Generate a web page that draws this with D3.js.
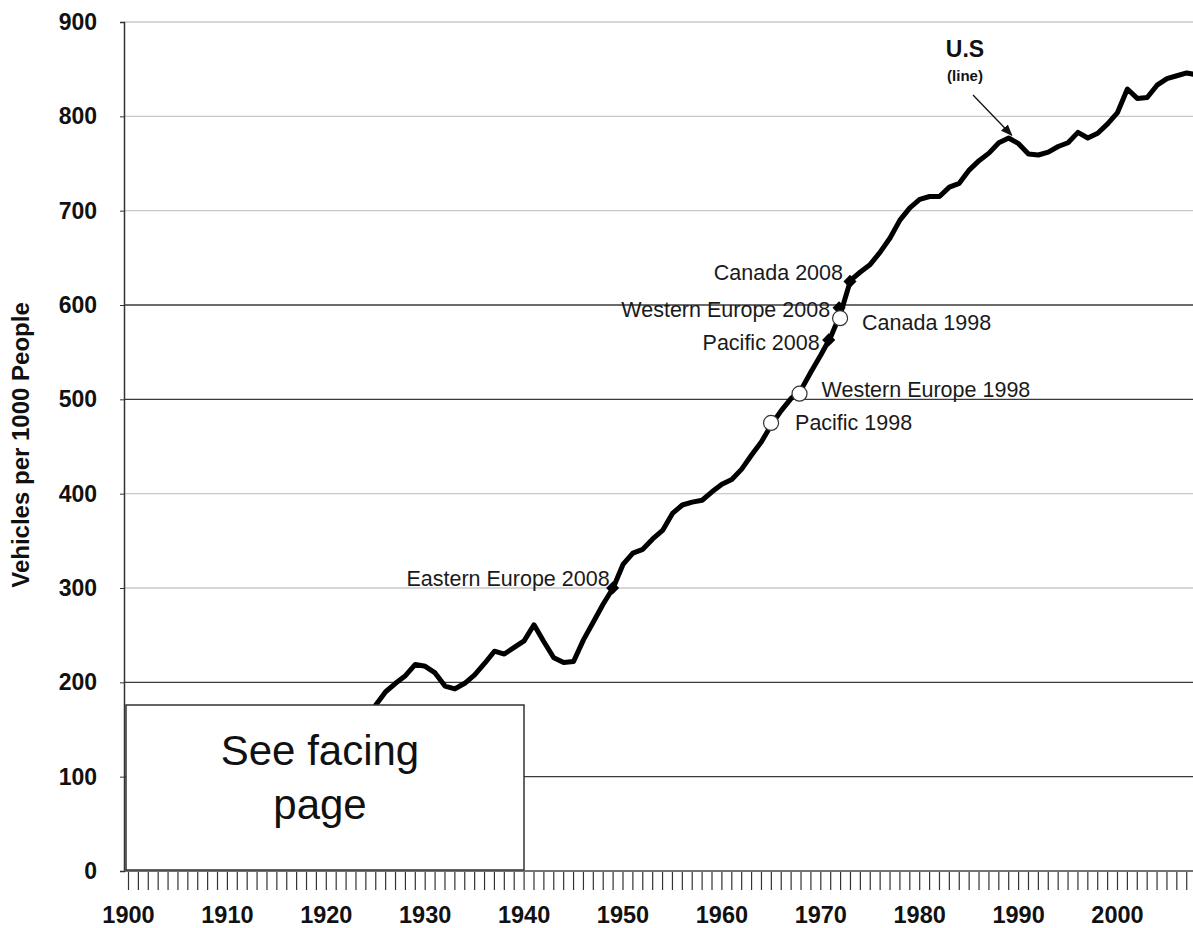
<!DOCTYPE html>
<html>
<head>
<meta charset="utf-8">
<script src="https://cdn.jsdelivr.net/npm/d3@7"></script>
<style>
  html, body { margin: 0; padding: 0; background: #fff; }
  svg { display: block; font-family: "Liberation Sans", Arial, Helvetica, sans-serif; }
</style>
</head>
<body>
<svg id="chart" width="1193" height="928"></svg>
<script>
// ---------- DATA ----------
const years = [1900,1901,1902,1903,1904,1905,1906,1907,1908,1909,
  1910,1911,1912,1913,1914,1915,1916,1917,1918,1919,
  1920,1921,1922,1923,1924,1925,1926,1927,1928,1929,
  1930,1931,1932,1933,1934,1935,1936,1937,1938,1939,
  1940,1941,1942,1943,1944,1945,1946,1947,1948,1949,
  1950,1951,1952,1953,1954,1955,1956,1957,1958,1959,
  1960,1961,1962,1963,1964,1965,1966,1967,1968,1969,
  1970,1971,1972,1973,1974,1975,1976,1977,1978,1979,
  1980,1981,1982,1983,1984,1985,1986,1987,1988,1989,
  1990,1991,1992,1993,1994,1995,1996,1997,1998,1999,
  2000,2001,2002,2003,2004,2005,2006,2007,2008];
const usVehiclesPer1000 = [0.1,0.2,0.3,0.4,0.7,0.9,1.3,1.6,2.1,3.4,
  5,6.6,10,13,18,25,34,48,58,72,
  87,97,111,135,155,176,190,199,207,219,
  217,210,196,193,199,208,220,233,230,237,
  244,261,243,226,221,222,245,264,283,300,
  325,337,341,352,361,379,388,391,393,402,
  410,415,426,441,455,473,488,501,510,529,
  547,566,591,626,635,643,656,671,690,703,
  712,715,715,725,729,743,753,761,772,777,
  771,760,759,762,768,772,783,777,782,792,
  804,829,819,820,833,840,843,846,844];

const markerLabels = ["Eastern Europe 2008","Pacific 1998","Western Europe 1998","Pacific 2008","Western Europe 2008","Canada 1998","Canada 2008"];
const markerYears  = [1948.95, 1964.97, 1967.85, 1970.8, 1971.85, 1971.95, 1972.95];
const markerValues = [300, 475, 506, 563, 597, 586, 625];
const markerKinds  = ["2008","1998","1998","2008","2008","1998","2008"];

const yTickValues = [0,100,200,300,400,500,600,700,800,900];
const xTickLabels = [1900,1910,1920,1930,1940,1950,1960,1970,1980,1990,2000];
const xMinorTicks = years;

// ---------- LAYOUT / STYLE ----------
const labelLayout = {
  "Eastern Europe 2008": {dx: -3, dy: -2, anchor: "end"},
  "Pacific 1998":        {dx: 24, dy: 7, anchor: "start"},
  "Western Europe 1998": {dx: 22, dy: 3, anchor: "start"},
  "Pacific 2008":        {dx: -9, dy: 10, anchor: "end"},
  "Western Europe 2008": {dx: -9, dy: 9, anchor: "end"},
  "Canada 1998":         {dx: 22, dy: 12, anchor: "start"},
  "Canada 2008":         {dx: -7, dy: -1, anchor: "end"}
};
const darkGrid = new Set([100,200,500,600]);

const svg = d3.select("#chart");
const x = d3.scaleLinear().domain([1900, 2000]).range([128.5, 1117.5]);
const y = d3.scaleLinear().domain([0, 900]).range([871, 22]);
const axisX = 124, rightEdge = 1193;

svg.append("defs").append("clipPath").attr("id", "plotClip")
  .append("rect").attr("x", axisX).attr("y", 0).attr("width", rightEdge - axisX).attr("height", y(0) - 1);

// gridlines
svg.append("g").selectAll("line").data(yTickValues.filter(v => v > 0)).join("line")
  .attr("x1", axisX).attr("x2", rightEdge)
  .attr("y1", d => y(d)).attr("y2", d => y(d))
  .attr("stroke", d => darkGrid.has(d) ? "#3a3a3a" : "#c8c8c8")
  .attr("stroke-width", 1.3);

// US line
const line = d3.line().x((d, i) => x(years[i])).y(d => y(d)).curve(d3.curveLinear);
svg.append("path").datum(usVehiclesPer1000)
  .attr("clip-path", "url(#plotClip)")
  .attr("d", line).attr("fill", "none").attr("stroke", "#000")
  .attr("stroke-width", 5).attr("stroke-linejoin", "round").attr("stroke-linecap", "round");

// box "See facing page"
svg.append("rect").attr("x", 126).attr("y", 705).attr("width", 398).attr("height", 165)
  .attr("fill", "#fff").attr("stroke", "#333").attr("stroke-width", 1.5);
svg.append("text").attr("x", 320).attr("y", 765).attr("text-anchor", "middle")
  .attr("font-size", 42).attr("fill", "#111").text("See facing");
svg.append("text").attr("x", 320).attr("y", 819).attr("text-anchor", "middle")
  .attr("font-size", 42).attr("fill", "#111").text("page");

// y axis
const yAxis = d3.axisLeft(y).tickValues(yTickValues).tickSize(4).tickFormat(d3.format("d"));
const gy = svg.append("g").attr("transform", `translate(${axisX},0)`).call(yAxis);
gy.select(".domain").attr("stroke", "#333").attr("stroke-width", 1.5);
gy.selectAll(".tick line").attr("stroke", "#333");
gy.selectAll(".tick text").attr("x", -27).attr("font-size", 23).attr("font-weight", "bold")
  .attr("fill", "#111").attr("font-family", "'Liberation Sans', Arial, sans-serif");

// x axis line
svg.append("line").attr("x1", axisX).attr("x2", rightEdge).attr("y1", y(0)).attr("y2", y(0))
  .attr("stroke", "#444").attr("stroke-width", 1.5);

// x minor ticks
svg.append("g").selectAll("line").data(xMinorTicks).join("line")
  .attr("x1", d => x(d)).attr("x2", d => x(d))
  .attr("y1", y(0) + 1).attr("y2", y(0) + 19)
  .attr("stroke", "#333").attr("stroke-width", 1.2);

// x labels
svg.append("g").selectAll("text").data(xTickLabels).join("text")
  .attr("x", d => x(d)).attr("y", 923)
  .attr("text-anchor", "middle").attr("font-size", 23.5).attr("font-weight", "bold")
  .attr("fill", "#111").text(d => d);

// y title
svg.append("text")
  .attr("transform", "translate(29,445) rotate(-90)")
  .attr("text-anchor", "middle").attr("font-size", 24).attr("font-weight", "bold")
  .attr("fill", "#111")
  .text("Vehicles per 1000 People");

// markers
const markers = markerLabels.map((l, i) => ({label: l, year: markerYears[i], value: markerValues[i], kind: markerKinds[i]}));
const mg = svg.append("g");
markers.filter(d => d.kind === "2008").forEach(d => {
  mg.append("path").attr("d", d3.symbol().type(d3.symbolDiamond2).size(110)())
    .attr("transform", `translate(${x(d.year)},${y(d.value)})`)
    .attr("fill", "#000");
});
markers.filter(d => d.kind === "1998").forEach(d => {
  mg.append("circle").attr("cx", x(d.year)).attr("cy", y(d.value)).attr("r", 7.5)
    .attr("fill", "#fff").attr("stroke", "#333").attr("stroke-width", 1.2);
});
// marker labels
svg.append("g").selectAll("text").data(markers).join("text")
  .attr("x", d => x(d.year) + labelLayout[d.label].dx)
  .attr("y", d => y(d.value) + labelLayout[d.label].dy)
  .attr("text-anchor", d => labelLayout[d.label].anchor)
  .attr("font-size", 21.5).attr("fill", "#1a1a1a")
  .text(d => d.label);

// U.S annotation
svg.append("text").attr("x", 965).attr("y", 57).attr("text-anchor", "middle")
  .attr("font-size", 23).attr("font-weight", "bold").attr("fill", "#111").text("U.S");
svg.append("text").attr("x", 965).attr("y", 81).attr("text-anchor", "middle")
  .attr("font-size", 15).attr("font-weight", "bold").attr("fill", "#111").text("(line)");

svg.select("defs").append("marker").attr("id", "arrow")
  .attr("viewBox", "0 0 10 10").attr("refX", 9).attr("refY", 5)
  .attr("markerWidth", 9).attr("markerHeight", 9).attr("orient", "auto")
  .append("path").attr("d", "M0,1 L10,5 L0,9 Z").attr("fill", "#111");
const arrowEnd = [x(1989.3), y(780)];
svg.append("line").attr("x1", 973).attr("y1", 95)
  .attr("x2", arrowEnd[0]).attr("y2", arrowEnd[1])
  .attr("stroke", "#111").attr("stroke-width", 1.3).attr("marker-end", "url(#arrow)");
</script>
</body>
</html>
